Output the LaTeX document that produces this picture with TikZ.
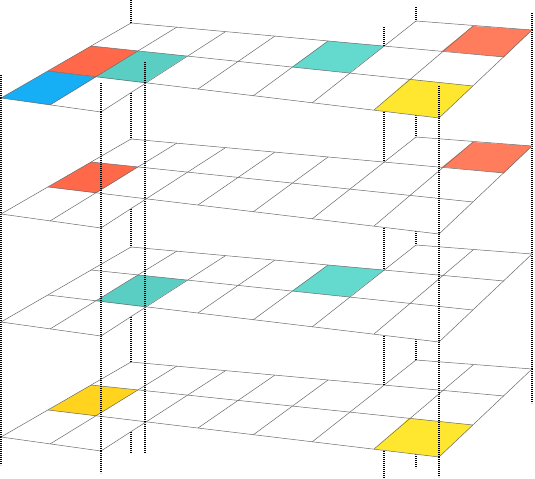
\documentclass[tikz,border=0pt]{standalone}
\usepackage{xcolor}
\usepackage{tikz}
\usetikzlibrary{calc}

\definecolor{cellred}{RGB}{255,104,72}
\definecolor{cellcoral}{RGB}{255,124,92}
\definecolor{cellteal}{RGB}{90,206,194}
\definecolor{cellaqua}{RGB}{100,217,205}
\definecolor{cellblue}{RGB}{22,174,245}
\definecolor{cellyellow}{RGB}{255,231,48}
\definecolor{cellgold}{RGB}{255,211,30}

% one coloured cell: layer, column, row
\newcommand{\fillcell}[4]{%
  \pgfmathtruncatemacro\ii{#2+1}%
  \pgfmathtruncatemacro\kk{#3+1}%
  \fill[#4] (p#1-#2-#3) -- (p#1-\ii-#3) -- (p#1-\ii-\kk) -- (p#1-#2-\kk) -- cycle;}

% white sheet and grid of one layer
\newcommand{\drawlayer}[1]{%
  \fill[white] (p#1-0-1) -- (p#1-5-1) -- (p#1-5-0) -- (p#1-7-0) -- (p#1-7-3)
    -- (p#1-2-3) -- (p#1-2-4) -- (p#1-0-4) -- cycle;}

\newcommand{\drawgrid}[1]{%
  \draw[gridline] (p#1-5-0) -- (p#1-7-0);
  \foreach \k in {1,2,3} \draw[gridline] (p#1-0-\k) -- (p#1-7-\k);
  \draw[gridline] (p#1-0-4) -- (p#1-2-4);
  \foreach \i in {0,1,2} \draw[gridline] (p#1-\i-1) -- (p#1-\i-4);
  \foreach \i in {3,4} \draw[gridline] (p#1-\i-1) -- (p#1-\i-3);
  \foreach \i in {5,6,7} \draw[gridline] (p#1-\i-0) -- (p#1-\i-3);}

\begin{document}
\begin{tikzpicture}[x=1bp, y=-1bp,
    gridline/.style={draw=black!58, line width=0.5bp},
    vline/.style={black, line width=2bp, dash pattern=on 1bp off 1bp}]

    \useasboundingbox[fill=white] (0,0) rectangle (535,479);

    % grid points of the four layers, seen in perspective
    \foreach \l/\off in {1/0, 2/116, 3/224, 4/339} {
      \foreach \i in {0,...,7} {
        \foreach \k in {0,...,4} {
          \pgfmathsetmacro\den{1-0.022497*\i-0.03611*(\k-1)}
          \pgfmathsetmacro\px{round((41.947*\i-43.235*(\k-1)+131)/\den)}
          \pgfmathsetmacro\py{round((3.574*\i+21.435*(\k-1)+23)/\den)+\off}
          \coordinate (p\l-\i-\k) at (\px,\py);
        }
      }
    }

    % Below the bottom layer
    \foreach \i/\k/\yb in {0/1/453, 0/4/465, 2/4/473, 2/3/453, 5/1/479, 5/0/468, 7/0/403, 7/3/477}
      \draw[vline] (p4-\i-\k) -- (p4-\i-\k |- 0,\yb);

    % Layer 4
    \drawlayer{4}
    \fillcell{4}{0}{2}{cellgold}
    \fillcell{4}{6}{2}{cellyellow}
    \drawgrid{4}

    \foreach \i/\k in {0/1, 0/4, 2/4, 2/3, 5/1, 5/0, 7/0, 7/3}
      \draw[vline] (p3-\i-\k) -- (p4-\i-\k);

    % Layer 3
    \drawlayer{3}
    \fillcell{3}{1}{2}{cellteal}
    \fillcell{3}{4}{1}{cellaqua}
    \drawgrid{3}

    \foreach \i/\k in {0/1, 0/4, 2/4, 2/3, 5/1, 5/0, 7/0, 7/3}
      \draw[vline] (p2-\i-\k) -- (p3-\i-\k);

    % Layer 2
    \drawlayer{2}
    \fillcell{2}{0}{2}{cellred}
    \fillcell{2}{6}{0}{cellcoral}
    \drawgrid{2}

    \foreach \i/\k in {0/1, 0/4, 2/4, 2/3, 5/1, 5/0, 7/0, 7/3}
      \draw[vline] (p1-\i-\k) -- (p2-\i-\k);

    % Layer 1 (top)
    \drawlayer{1}
    \fillcell{1}{0}{3}{cellblue}
    \fillcell{1}{0}{2}{cellred}
    \fillcell{1}{1}{2}{cellteal}
    \fillcell{1}{4}{1}{cellaqua}
    \fillcell{1}{6}{0}{cellcoral}
    \fillcell{1}{6}{2}{cellyellow}
    \drawgrid{1}

    % Above the top layer
    \foreach \i/\k/\yt in {0/1/0, 0/4/75, 2/4/83, 2/3/62, 5/1/27, 5/0/7, 7/0/13, 7/3/86}
      \draw[vline] (p1-\i-\k |- 0,\yt) -- (p1-\i-\k);

\end{tikzpicture}
\end{document}
